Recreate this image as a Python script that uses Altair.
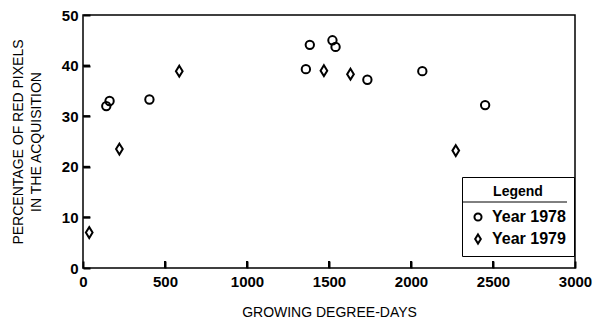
import altair as alt
import pandas as pd

x_1978 = [142, 162, 405, 1359, 1383, 1521, 1540, 1734, 2069, 2452]
y_1978 = [32.0, 33.0, 33.3, 39.3, 44.1, 45.0, 43.7, 37.2, 38.9, 32.2]
x_1979 = [38, 222, 587, 1469, 1631, 2273]
y_1979 = [7.0, 23.5, 38.9, 39.0, 38.3, 23.2]
series = ["Year 1978", "Year 1979"]
x_ticks = [0, 500, 1000, 1500, 2000, 2500, 3000]
y_ticks = [0, 10, 20, 30, 40, 50]

df = pd.DataFrame({
    "gdd": x_1978 + x_1979,
    "pct": y_1978 + y_1979,
    "series": [series[0]] * len(x_1978) + [series[1]] * len(x_1979),
})

W, H = 492, 253
TK = 7
FONT = "Liberation Sans"
diamond = "M0,-1.3L0.8,0L0,1.3L-0.8,0Z"

xs = alt.Scale(domain=[0, 3000], nice=False)
ys = alt.Scale(domain=[0, 50], nice=False)

points = alt.Chart(df).mark_point(filled=False, strokeWidth=2, color="black", opacity=1, size=70).encode(
    x=alt.X("gdd:Q", scale=xs, axis=alt.Axis(values=x_ticks, title="GROWING DEGREE-DAYS", format="d",
                                            labelFont=FONT, labelFontWeight="bold", labelFontSize=15,
                                            labelColor="black", ticks=True, tickSize=TK, tickWidth=2,
                                            tickColor="black", offset=-TK, domain=False, grid=False,
                                            zindex=2, labelFlush=False, labelPadding=6,
                                            titleFont=FONT, titleFontSize=14,
                                            titleFontWeight="normal", titleColor="black", titlePadding=16)),
    y=alt.Y("pct:Q", scale=ys, axis=alt.Axis(values=y_ticks, title=["PERCENTAGE OF RED PIXELS", "IN THE ACQUISITION"],
                                            labelFont=FONT, labelFontWeight="bold", labelFontSize=15,
                                            labelColor="black", ticks=True, tickSize=TK, tickWidth=2,
                                            tickColor="black", offset=-TK, domain=False, grid=False,
                                            zindex=2, labelFlush=False, labelPadding=5,
                                            titleFont=FONT, titleFontSize=14,
                                            titleFontWeight="normal", titleColor="black", titlePadding=18,
                                            titleLineHeight=18)),
    shape=alt.Shape("series:N", scale=alt.Scale(domain=series, range=["circle", diamond]),
                    legend=alt.Legend(title="Legend", orient="none", legendX=379, legendY=162,
                                      strokeColor="black", padding=8, titleFont=FONT, titleFontSize=14,
                                      titleFontWeight="bold", titleColor="black", titleAnchor="middle",
                                      titleAlign="center", titlePadding=10,
                                      labelFont=FONT, labelFontSize=16, labelFontWeight="bold",
                                      labelColor="black", symbolSize=50, symbolStrokeWidth=2,
                                      symbolStrokeColor="black", symbolFillColor="transparent",
                                      symbolType="circle", rowPadding=5, labelOffset=6)),
)

xtick = alt.Chart(pd.DataFrame({"tx": x_ticks[1:-1]})).mark_rule(color="black", strokeWidth=2).encode(
    x=alt.X("tx:Q", scale=xs), y=alt.value(H), y2=alt.value(H - TK))
ytick = alt.Chart(pd.DataFrame({"ty": y_ticks[1:-1]})).mark_rule(color="black", strokeWidth=2).encode(
    y=alt.Y("ty:Q", scale=ys), x=alt.value(0), x2=alt.value(TK))
frame = alt.Chart(pd.DataFrame({"a": [0]})).mark_rect(filled=False, fill="transparent", stroke="black",
                                                     strokeWidth=1.5).encode(
    x=alt.value(0), x2=alt.value(W), y=alt.value(0), y2=alt.value(H))
divider = alt.Chart(pd.DataFrame({"a": [0]})).mark_rule(color="black", strokeWidth=1).encode(
    x=alt.value(379), x2=alt.value(484), y=alt.value(187))

chart = alt.layer(frame, points, xtick, ytick, divider).properties(
    width=W, height=H,
    background="white",
    autosize=alt.AutoSizeParams(type="none"),
    padding={"left": 75, "top": 7, "right": 20, "bottom": 50},
).configure_view(stroke=None)

chart.save("out.html", embed_options={"renderer": "svg", "actions": False})
